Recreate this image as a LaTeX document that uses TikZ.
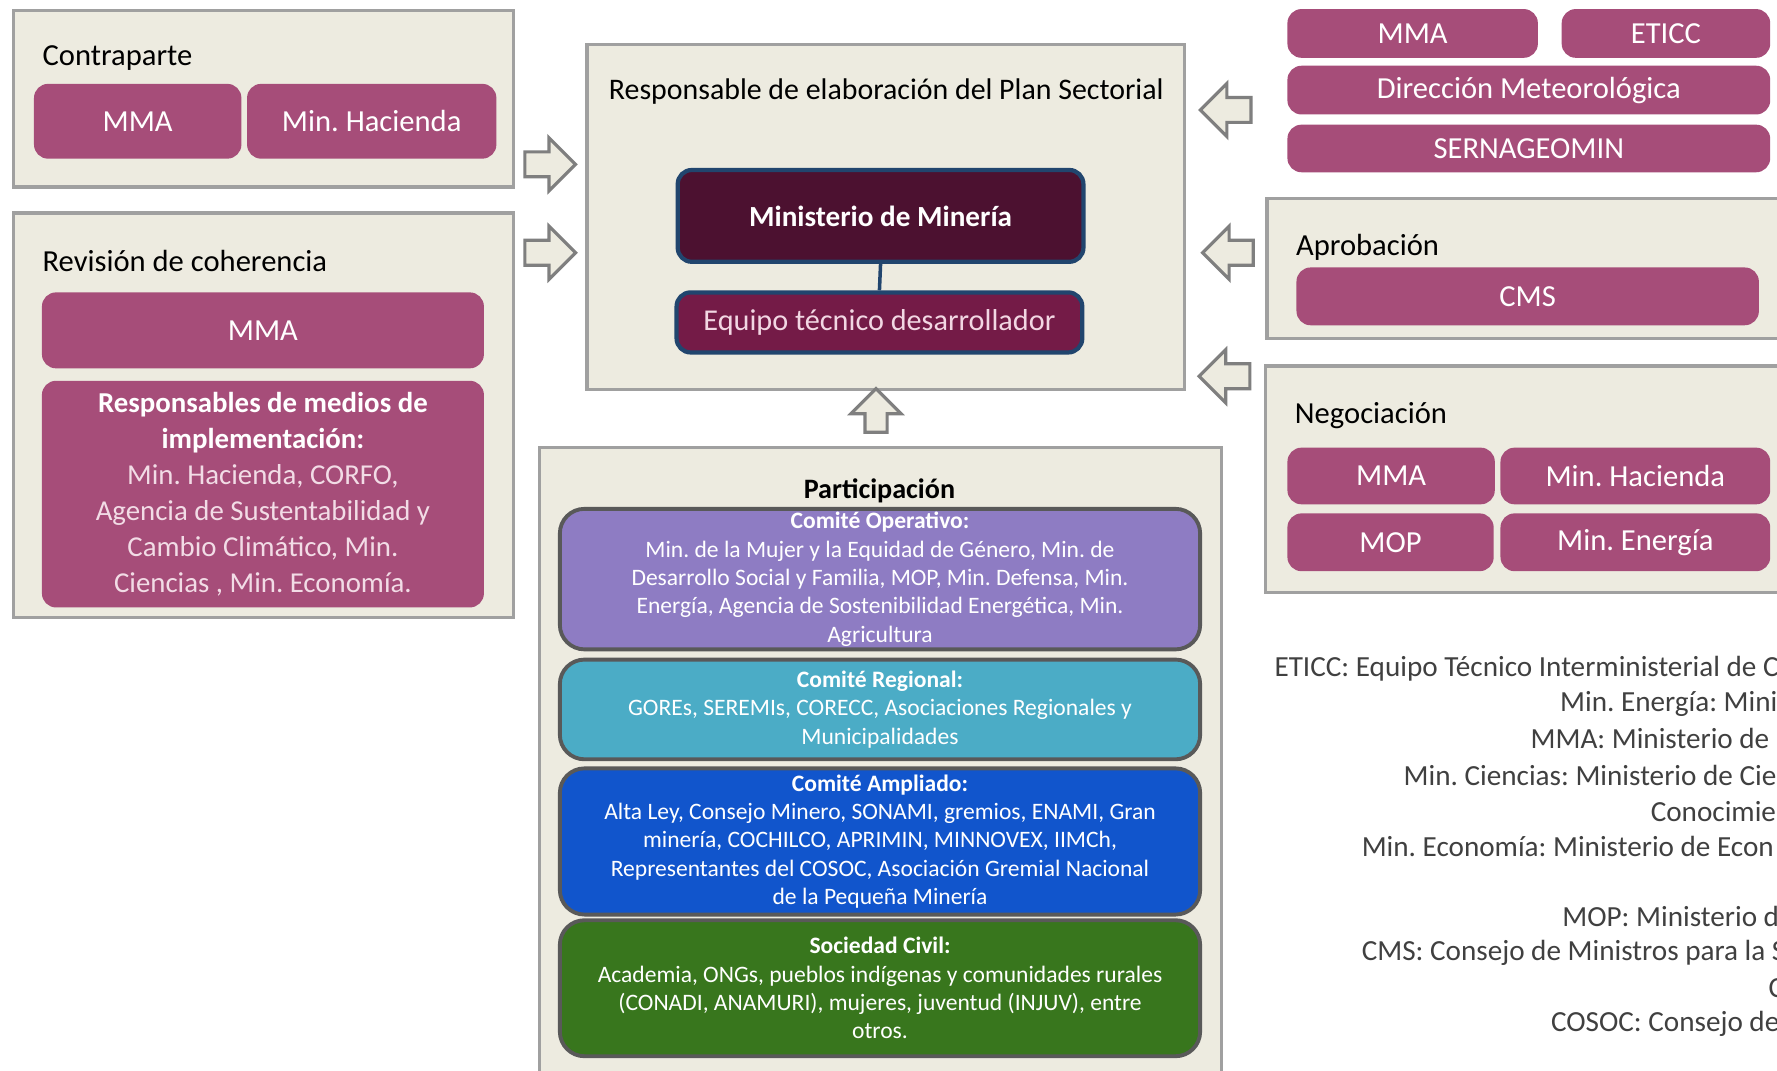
\documentclass[tikz,border=0pt]{standalone}
\usepackage{fontspec}
\setmainfont{Carlito}
\frenchspacing
\usetikzlibrary{fit,shapes.arrows}
\definecolor{panelfill}{HTML}{EDEBE0}
\definecolor{panelgray}{HTML}{A0A0A0}
\definecolor{arrowgray}{HTML}{7F7F7F}
\definecolor{btnmag}{HTML}{A64D79}
\definecolor{mindark}{HTML}{4C1130}
\definecolor{teamfill}{HTML}{741B47}
\definecolor{minblue}{HTML}{21456E}
\definecolor{teamtext}{HTML}{F2D7E3}
\definecolor{opfill}{HTML}{8E7CC3}
\definecolor{regfill}{HTML}{4BACC6}
\definecolor{ampfill}{HTML}{1155CC}
\definecolor{civfill}{HTML}{38761D}
\definecolor{comgray}{HTML}{595959}
\definecolor{legendgray}{HTML}{404040}
\definecolor{pinktext}{HTML}{F2DCE6}
\begin{document}
\begin{tikzpicture}[x=0.1133mm, y=-0.1133mm,
    panel/.style={draw=panelgray, line width=0.9pt, fill=panelfill, inner sep=0pt},
    btn/.style={fill=btnmag, rounded corners=4pt, inner sep=0pt},
    btntext/.style={inner sep=0pt, text=white, font=\fontsize{8.7}{10}\selectfont},
    heading/.style={anchor=west, inner sep=0pt, font=\fontsize{8.7}{10}\selectfont},
    comite/.style={draw=comgray, line width=1.1pt, rounded corners=7pt, inner sep=0pt},
    comitetext/.style={inner sep=0pt, text=white, align=center, font=\fontsize{6.7}{8.06}\selectfont},
    blockarrow/.style={single arrow, draw=arrowgray, fill=panelfill, line width=0.9pt, inner sep=3.1pt, minimum height=14.4pt, minimum width=14pt, single arrow head extend=4pt},
    legend/.style={anchor=west, inner sep=0pt, text=legendgray, font=\fontsize{8.3}{10}\selectfont}]
  \useasboundingbox (0,0) rectangle (1568,945);
  \clip (0,0) rectangle (1568,945);
  \fill[white] (0,0) rectangle (1568,945);

  % left column
  \node[panel, fit={(12,9) (453,165)}] (contraparte) {};
  \node[heading] (contraTitle) at (37,51) {Contraparte};
  \node[btn, fit={(30,74) (213,140)}] (contraMMA) {};
  \node[btntext] (contraMMAtext) at (contraMMA) {MMA};
  \node[btn, fit={(218,74) (438,140)}] (contraHacienda) {};
  \node[btntext] (contraHaciendatext) at (contraHacienda) {Min. Hacienda};

  \node[panel, fit={(12,188) (453,545)}] (revision) {};
  \node[heading] (revTitle) at (37,230) {Revisión de coherencia};
  \node[btn, fit={(37,258) (427,325)}] (revMMA) {};
  \node[btntext] (revMMAtext) at (revMMA) {MMA};
  \node[btn, fit={(37,336) (427,536)}] (revMedios) {};
  \node[btntext, align=center, font=\fontsize{8.2}{10.2}\selectfont] (revMediostext) at (revMedios)
    {\textbf{Responsables de medios de}\\ \textbf{implementación:}\\
     \textcolor{pinktext}{Min. Hacienda, CORFO,}\\
     \textcolor{pinktext}{Agencia de Sustentabilidad y}\\
     \textcolor{pinktext}{Cambio Climático, Min.}\\
     \textcolor{pinktext}{Ciencias , Min. Economía.}};

  \node[blockarrow] (toPlanA) at (480,145) {};
  \node[blockarrow] (toPlanB) at (480,223) {};

  % centre
  \node[panel, fit={(518,39) (1045,344)}] (plan) {};
  \node[inner sep=0pt, font=\fontsize{8.5}{10}\selectfont] (planTitle) at (782,81) {Responsable de elaboración del Plan Sectorial};
  \node[fill=mindark, draw=minblue, line width=1.2pt, rounded corners=4pt, inner sep=0pt, fit={(598,150) (956,231)}] (ministerio) {};
  \node[btntext, font=\fontsize{8.3}{10}\selectfont\bfseries] (ministeriotext) at (ministerio) {Ministerio de Minería};
  \node[fill=teamfill, draw=minblue, line width=1.2pt, rounded corners=4pt, inner sep=0pt, fit={(597,258) (955,311)}] (equipo) {};
  \node[btntext, text=teamtext, font=\fontsize{8.6}{10}\selectfont] (equipotext) at (equipo) {Equipo técnico desarrollador};
  \draw[minblue, line width=1pt] (ministerio.south) -- (equipo.north);

  \node[blockarrow, shape border rotate=90, minimum height=12.4pt, minimum width=14pt, inner sep=2.7pt] (fromPart) at (773,367) {};

  \node[panel, fit={(476,395) (1078,965)}] (participacion) {};
  \node[inner sep=0pt, font=\fontsize{8}{10}\selectfont\bfseries] (partTitle) at (776,433) {Participación};
  \node[comite, fill=opfill, fit={(494,449) (1059,573)}] (operativo) {};
  \node[comitetext] (operativotext) at (operativo)
    {\textbf{Comité Operativo:}\\ Min. de la Mujer y la Equidad de Género, Min. de\\
     Desarrollo Social y Familia, MOP, Min. Defensa, Min.\\
     Energía, Agencia de Sostenibilidad Energética, Min.\\ Agricultura};
  \node[comite, fill=regfill, fit={(494,582) (1059,670)}] (regional) {};
  \node[comitetext] (regionaltext) at (regional)
    {\textbf{Comité Regional:}\\ GOREs, SEREMIs, CORECC, Asociaciones Regionales y\\ Municipalidades};
  \node[comite, fill=ampfill, fit={(494,678) (1059,807)}] (ampliado) {};
  \node[comitetext] (ampliadotext) at (ampliado)
    {\textbf{Comité Ampliado:}\\ Alta Ley, Consejo Minero, SONAMI, gremios, ENAMI, Gran\\
     minería, COCHILCO, APRIMIN, MINNOVEX, IIMCh,\\
     Representantes del COSOC, Asociación Gremial Nacional\\ de la Pequeña Minería};
  \node[comite, fill=civfill, fit={(494,812) (1059,932)}] (civil) {};
  \node[comitetext] (civiltext) at (civil)
    {\textbf{Sociedad Civil:}\\ Academia, ONGs, pueblos indígenas y comunidades rurales\\
     (CONADI, ANAMURI), mujeres, juventud (INJUV), entre\\ otros.};

  % right column
  \node[blockarrow, shape border rotate=180] (fromInst) at (1087,97) {};
  \node[btn, fit={(1136,8) (1357,51)}] (instMMA) {};
  \node[btntext] (instMMAtext) at (instMMA) {MMA};
  \node[btn, fit={(1378,8) (1562,51)}] (instETICC) {};
  \node[btntext] (instETICCtext) at (instETICC) {ETICC};
  \node[btn, fit={(1136,58) (1562,101)}] (instDMC) {};
  \node[btntext] (instDMCtext) at (instDMC) {Dirección Meteorológica};
  \node[btn, fit={(1136,110) (1562,152)}] (instSernageomin) {};
  \node[btntext] (instSernageomintext) at (instSernageomin) {SERNAGEOMIN};

  \node[blockarrow, shape border rotate=180] (fromAprob) at (1089,223) {};
  \node[panel, fit={(1118,175) (1580,299)}] (aprobacion) {};
  \node[heading] (aprobTitle) at (1143,218) {Aprobación};
  \node[btn, fit={(1144,236) (1552,287)}] (aprobCMS) {};
  \node[btntext] (aprobCMStext) at (aprobCMS) {CMS};

  \node[blockarrow, shape border rotate=180] (fromNeg) at (1086,332) {};
  \node[panel, fit={(1117,323) (1580,523)}] (negociacion) {};
  \node[heading] (negTitle) at (1142,367) {Negociación};
  \node[btn, fit={(1136,395) (1319,445)}] (negMMA) {};
  \node[btntext] (negMMAtext) at (negMMA) {MMA};
  \node[btn, fit={(1324,395) (1562,445)}] (negHacienda) {};
  \node[btntext] (negHaciendatext) at (negHacienda) {Min. Hacienda};
  \node[btn, fit={(1136,453) (1318,504)}] (negMOP) {};
  \node[btntext] (negMOPtext) at (negMOP) {MOP};
  \node[btn, fit={(1324,453) (1562,504)}] (negEnergia) {};
  \node[btntext] (negEnergiatext) at (negEnergia) {Min. Energía};

  % legend
  \node[legend] (legETICC) at (1124,590) {ETICC: Equipo Técnico Interministerial de C};
  \node[legend] (legEnergia) at (1376,621) {Min. Energía: Mini};
  \node[legend] (legMMA) at (1350,652) {MMA: Ministerio de};
  \node[legend] (legCiencias) at (1238,684) {Min. Ciencias: Ministerio de Cie};
  \node[legend] (legCienciasB) at (1456,716) {Conocimie};
  \node[legend] (legEconomia) at (1201,747) {Min. Economía: Ministerio de Econ};
  \node[legend] (legMOP) at (1378,809) {MOP: Ministerio d};
  \node[legend] (legCMS) at (1201,841) {CMS: Consejo de Ministros para la S};
  \node[legend] (legCMSB) at (1560,872) {C};
  \node[legend] (legCOSOC) at (1368,903) {COSOC: Consejo de};
\end{tikzpicture}
\end{document}
